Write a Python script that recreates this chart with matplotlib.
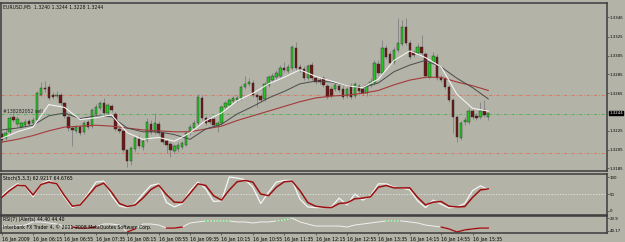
import numpy as np
import matplotlib
matplotlib.use('Agg')
from matplotlib import pyplot as plt
from matplotlib import transforms

# EURUSD M5 candles, 16 Jan 2009 05:35 .. 15:55
opens = [
    1.3222, 1.3217, 1.3224, 1.3240, 1.3232, 1.3229, 1.3231, 1.3236, 1.3233, 1.3237,
    1.3263, 1.3271, 1.3272, 1.3263, 1.3262, 1.3263, 1.3255, 1.3240, 1.3228, 1.3225,
    1.3229, 1.3224, 1.3234, 1.3230, 1.3243, 1.3249, 1.3255, 1.3244, 1.3251, 1.3243,
    1.3227, 1.3225, 1.3205, 1.3193, 1.3206, 1.3216, 1.3208, 1.3215, 1.3232, 1.3224,
    1.3232, 1.3223, 1.3214, 1.3211, 1.3204, 1.3206, 1.3208, 1.3210, 1.3223, 1.3228,
    1.3233, 1.3260, 1.3239, 1.3238, 1.3238, 1.3230, 1.3233, 1.3250, 1.3253, 1.3257,
    1.3258, 1.3260, 1.3272, 1.3275, 1.3276, 1.3263, 1.3262, 1.3259, 1.3274, 1.3279,
    1.3282, 1.3283, 1.3292, 1.3289, 1.3292, 1.3313, 1.3293, 1.3291, 1.3281, 1.3295,
    1.3281, 1.3279, 1.3281, 1.3273, 1.3270, 1.3270, 1.3273, 1.3270, 1.3262, 1.3273,
    1.3262, 1.3273, 1.3270, 1.3265, 1.3274, 1.3276, 1.3296, 1.3287, 1.3313, 1.3307,
    1.3298, 1.3311, 1.3317, 1.3336, 1.3318, 1.3309, 1.3308, 1.3314, 1.3307, 1.3282,
    1.3298, 1.3304, 1.3281, 1.3280, 1.3272, 1.3258, 1.3240, 1.3217, 1.3234, 1.3234,
    1.3246, 1.3241, 1.3240, 1.3247, 1.3240]
highs = [
    1.3224, 1.3228, 1.3241, 1.3244, 1.3241, 1.3236, 1.3238, 1.3238, 1.3240, 1.3267,
    1.3277, 1.3278, 1.3275, 1.3266, 1.3267, 1.3265, 1.3256, 1.3242, 1.3230, 1.3231,
    1.3231, 1.3236, 1.3237, 1.3249, 1.3254, 1.3257, 1.3260, 1.3255, 1.3254, 1.3245,
    1.3229, 1.3227, 1.3206, 1.3209, 1.3220, 1.3221, 1.3216, 1.3239, 1.3237, 1.3244,
    1.3236, 1.3225, 1.3216, 1.3213, 1.3211, 1.3213, 1.3214, 1.3226, 1.3232, 1.3237,
    1.3264, 1.3263, 1.3241, 1.3241, 1.3240, 1.3236, 1.3253, 1.3257, 1.3260, 1.3262,
    1.3263, 1.3274, 1.3283, 1.3281, 1.3279, 1.3265, 1.3264, 1.3277, 1.3284, 1.3287,
    1.3290, 1.3295, 1.3298, 1.3296, 1.3316, 1.3320, 1.3296, 1.3294, 1.3296, 1.3298,
    1.3283, 1.3282, 1.3283, 1.3275, 1.3273, 1.3276, 1.3275, 1.3273, 1.3272, 1.3276,
    1.3277, 1.3275, 1.3273, 1.3276, 1.3281, 1.3300, 1.3300, 1.3322, 1.3316, 1.3310,
    1.3314, 1.3345, 1.3343, 1.3345, 1.3322, 1.3311, 1.3318, 1.3327, 1.3309, 1.3299,
    1.3309, 1.3307, 1.3284, 1.3282, 1.3274, 1.3260, 1.3242, 1.3236, 1.3240, 1.3249,
    1.3248, 1.3244, 1.3256, 1.3258, 1.3244]
lows = [
    1.3213, 1.3215, 1.3222, 1.3234, 1.3229, 1.3228, 1.3229, 1.3231, 1.3232, 1.3236,
    1.3262, 1.3266, 1.3258, 1.3259, 1.3260, 1.3253, 1.3239, 1.3225, 1.3209, 1.3223,
    1.3221, 1.3222, 1.3227, 1.3228, 1.3241, 1.3247, 1.3242, 1.3242, 1.3245, 1.3225,
    1.3223, 1.3203, 1.3187, 1.3189, 1.3203, 1.3207, 1.3205, 1.3213, 1.3222, 1.3222,
    1.3221, 1.3211, 1.3201, 1.3197, 1.3201, 1.3203, 1.3206, 1.3209, 1.3221, 1.3226,
    1.3231, 1.3237, 1.3231, 1.3232, 1.3229, 1.3224, 1.3231, 1.3248, 1.3250, 1.3255,
    1.3256, 1.3258, 1.3270, 1.3273, 1.3261, 1.3250, 1.3256, 1.3257, 1.3272, 1.3277,
    1.3280, 1.3281, 1.3288, 1.3287, 1.3290, 1.3290, 1.3288, 1.3279, 1.3279, 1.3279,
    1.3275, 1.3275, 1.3272, 1.3259, 1.3260, 1.3267, 1.3266, 1.3259, 1.3260, 1.3259,
    1.3260, 1.3265, 1.3263, 1.3262, 1.3272, 1.3274, 1.3284, 1.3284, 1.3301, 1.3295,
    1.3296, 1.3309, 1.3315, 1.3316, 1.3301, 1.3304, 1.3306, 1.3306, 1.3281, 1.3280,
    1.3296, 1.3279, 1.3277, 1.3270, 1.3256, 1.3223, 1.3213, 1.3215, 1.3231, 1.3232,
    1.3238, 1.3237, 1.3238, 1.3240, 1.3237]
closes = [
    1.3215, 1.3223, 1.3239, 1.3237, 1.3238, 1.3233, 1.3234, 1.3232, 1.3237, 1.3265,
    1.3271, 1.3270, 1.3260, 1.3261, 1.3263, 1.3255, 1.3241, 1.3228, 1.3226, 1.3229,
    1.3223, 1.3233, 1.3229, 1.3247, 1.3250, 1.3255, 1.3244, 1.3253, 1.3247, 1.3227,
    1.3225, 1.3205, 1.3193, 1.3207, 1.3217, 1.3209, 1.3214, 1.3234, 1.3224, 1.3233,
    1.3223, 1.3213, 1.3210, 1.3205, 1.3209, 1.3210, 1.3212, 1.3223, 1.3229, 1.3233,
    1.3261, 1.3239, 1.3233, 1.3234, 1.3231, 1.3233, 1.3250, 1.3255, 1.3258, 1.3260,
    1.3260, 1.3272, 1.3275, 1.3277, 1.3263, 1.3261, 1.3258, 1.3275, 1.3282, 1.3283,
    1.3287, 1.3292, 1.3290, 1.3293, 1.3314, 1.3292, 1.3290, 1.3281, 1.3294, 1.3281,
    1.3277, 1.3277, 1.3274, 1.3261, 1.3262, 1.3274, 1.3268, 1.3261, 1.3270, 1.3261,
    1.3275, 1.3267, 1.3265, 1.3274, 1.3277, 1.3297, 1.3287, 1.3313, 1.3304, 1.3297,
    1.3311, 1.3318, 1.3336, 1.3318, 1.3304, 1.3306, 1.3314, 1.3308, 1.3283, 1.3297,
    1.3305, 1.3281, 1.3279, 1.3272, 1.3258, 1.3240, 1.3218, 1.3233, 1.3237, 1.3246,
    1.3240, 1.3239, 1.3246, 1.3242, 1.3244]

# moving averages read every 4 bars
ma_step = 4
ma_fast = [1.3217, 1.3224, 1.3229, 1.3253, 1.3250, 1.3237, 1.3239, 1.3242, 1.3223, 1.3216,
           1.3218, 1.3214, 1.3223, 1.3236, 1.3244, 1.3257, 1.3265, 1.3275, 1.3282, 1.3290,
           1.3283, 1.3278, 1.3273, 1.3271, 1.3280, 1.3300, 1.3310, 1.3303, 1.3293, 1.3264,
           1.3249, 1.3246]
ma_mid = [1.3226, 1.3228, 1.3231, 1.3241, 1.3244, 1.3238, 1.3241, 1.3240, 1.3228, 1.3224,
          1.3224, 1.3221, 1.3216, 1.3227, 1.3232, 1.3243, 1.3251, 1.3260, 1.3267, 1.3275,
          1.3278, 1.3277, 1.3273, 1.3271, 1.3276, 1.3288, 1.3295, 1.3300, 1.3293, 1.3281,
          1.3271, 1.3259]
ma_slow = [1.3213, 1.3216, 1.3220, 1.3225, 1.3229, 1.3230, 1.3231, 1.3230, 1.3228, 1.3226,
           1.3225, 1.3224, 1.3224, 1.3227, 1.3230, 1.3236, 1.3241, 1.3246, 1.3251, 1.3256,
           1.3260, 1.3262, 1.3263, 1.3265, 1.3268, 1.3274, 1.3279, 1.3282, 1.3282, 1.3277,
           1.3273, 1.3268]

# stochastic and rsi read every 2 bars
osc_step = 2
stoch_k = [45, 65, 80, 72, 42, 80, 90, 78, 40, 10, 20, 50, 85, 88, 45, 15, 10, 22, 50, 75,
           80, 25, 12, 22, 60, 85, 65, 28, 30, 100, 97, 92, 70, 22, 55, 85, 90, 90, 35, 12,
           10, 10, 12, 38, 18, 50, 32, 45, 80, 80, 70, 68, 62, 30, 10, 32, 20, 9, 12, 22,
           60, 74, 63]
stoch_d = [40, 60, 76, 74, 47, 78, 85, 80, 45, 14, 18, 45, 72, 82, 55, 22, 13, 18, 38, 63,
           76, 48, 26, 25, 52, 80, 75, 45, 32, 62, 86, 90, 85, 50, 45, 70, 86, 88, 60, 25,
           14, 11, 10, 22, 24, 36, 38, 42, 70, 75, 68, 68, 68, 40, 18, 26, 28, 14, 12, 13,
           40, 62, 65]
rsi = [41, 41, 41, 47, 65, 65, 59, 53, 41, 35, 29, 29, 35, 53, 53, 47, 6, 24, 53, 53,
       47, 29, 29, 35, 59, 65, 71, 71, 71, 71, 65, 65, 59, 65, 65, 71, 76, 88, 65, 53,
       41, 41, 41, 41, 35, 47, 53, 59, 65, 71, 71, 71, 65, 59, 47, 41, 35, 24, 6, 18,
       24, 29, 29]

time_bars = [0, 8, 16, 24, 32, 40, 48, 56, 64, 72, 80, 88, 96, 104, 112, 120]
time_labels = ['16 Jan 2009', '16 Jan 06:15', '16 Jan 06:55', '16 Jan 07:35', '16 Jan 08:15',
               '16 Jan 08:55', '16 Jan 09:35', '16 Jan 10:15', '16 Jan 10:55', '16 Jan 11:35',
               '16 Jan 12:15', '16 Jan 12:55', '16 Jan 13:35', '16 Jan 14:15', '16 Jan 14:55',
               '16 Jan 15:35']
price_ticks = [1.3346, 1.3325, 1.3305, 1.3285, 1.3265, 1.3225, 1.3205, 1.3185]
order_price = 1.3243
sl_price = 1.3263
tp_price = 1.3201
last_price = 1.3244

bg = '#b3b3a8'
frame = '#3c3c3c'
fs = 3.3      # panel texts
fs_ax = 2.8   # right-hand scale labels
W, H = 625.0, 242.0


def box(x0, y0, x1, y1):
    return [x0 / W, 1 - y1 / H, (x1 - x0) / W, (y1 - y0) / H]


fig = plt.figure(figsize=(6.25, 2.42), dpi=100, facecolor=bg)
ax = fig.add_axes(box(1, 3, 607, 171))
ax_st = fig.add_axes(box(1, 173.5, 607, 214.5))
ax_rs = fig.add_axes(box(1, 216, 607, 233))

xlim = (-0.18, 154.26)
for a in (ax, ax_st, ax_rs):
    a.set_facecolor(bg)
    a.set_xlim(*xlim)
    for s in a.spines.values():
        s.set_color(frame)
        s.set_linewidth(1.1)
    a.yaxis.tick_right()
    a.tick_params(axis='y', length=1.5, width=0.5, color=frame, labelsize=fs_ax, pad=0.5)
    a.tick_params(axis='x', length=0)
    a.set_xticks([])

# ---- main price panel
o = np.array(opens); h = np.array(highs); l = np.array(lows); c = np.array(closes)
x = np.arange(len(c))
up = c >= o
ax.vlines(x, l, h, color='#808080', linewidth=0.6, zorder=2)
body_lo = np.minimum(o, c)
body_h = np.maximum(np.abs(c - o), 0.00005)
ax.bar(x[up], body_h[up], bottom=body_lo[up], width=0.62, color='#25c425',
       edgecolor='#2a2a2a', linewidth=0.3, zorder=3)
ax.bar(x[~up], body_h[~up], bottom=body_lo[~up], width=0.62, color='#6e1616',
       edgecolor='#2a2a2a', linewidth=0.3, zorder=3)

mx = np.arange(len(ma_fast)) * ma_step
ax.plot(mx, ma_slow, color='#a43a3a', linewidth=0.8, zorder=4)
ax.plot(mx, ma_mid, color='#4a4a4a', linewidth=0.7, zorder=4)
ax.plot(mx, ma_fast, color='#f2f2f2', linewidth=0.8, zorder=4)

ax.axhline(sl_price, color='#d8735c', linewidth=0.6, linestyle=(0, (4, 2, 1, 2)), zorder=1)
ax.axhline(tp_price, color='#d8735c', linewidth=0.6, linestyle=(0, (4, 2, 1, 2)), zorder=1)
ax.axhline(order_price, color='#4caf50', linewidth=0.6, linestyle=(0, (4, 2, 1, 2)), zorder=1)
ax.text(0.4, order_price + 0.00004, '#138282052 sell', fontsize=fs, color='#222222',
        va='bottom', ha='left', zorder=5)

ax.set_ylim(1.318229, 1.336104)
ax.set_yticks(price_ticks)
ax.set_yticklabels(['%.4f' % p for p in price_ticks])
ax.text(0.004, 0.99, 'EURUSD,M5  1.3240 1.3244 1.3228 1.3244', transform=ax.transAxes,
        fontsize=fs, va='top', ha='left', color='#111111')
tr = transforms.blended_transform_factory(ax.transAxes, ax.transData)
ax.text(1.0035, last_price, '%.4f' % last_price, transform=tr, fontsize=fs_ax, color='white',
        va='center', ha='left', clip_on=False,
        bbox=dict(facecolor='black', edgecolor='black', pad=0.3))

# ---- stochastic panel
sx = np.arange(len(stoch_k)) * osc_step
ax_st.axhline(50, color='#eeeeee', linewidth=0.5, linestyle=(0, (2, 2)))
ax_st.plot(sx, stoch_k, color='#f5f5f5', linewidth=0.9)
ax_st.plot(sx, stoch_d, color='#9c1010', linewidth=1.1)
ax_st.set_ylim(-10.3, 110.3)
ax_st.set_yticks([0, 50, 100])
ax_st.set_yticklabels(['0', '50', '100'])
ax_st.text(0.004, 97, 'Stoch(5,3,3) 62.9217 64.6765', fontsize=fs, va='center', ha='left',
           transform=transforms.blended_transform_factory(ax_st.transAxes, ax_st.transData))

# ---- rsi panel
rx = np.arange(len(rsi)) * osc_step
rv = np.array(rsi, dtype=float)
ax_rs.plot(rx, rv, color='#f0f0f0', linewidth=0.7)
hi = np.where(rv >= 68, rv, np.nan)
lo = np.where(rv <= 36, rv, np.nan)
ax_rs.plot(rx, hi, color='#3fd13f', linewidth=0.9, linestyle=(0, (1, 1.5)))
ax_rs.plot(rx, lo, color='#a01010', linewidth=1.0)
ax_rs.set_ylim(0, 100)
ax_rs.set_yticks([88, 12])
ax_rs.set_yticklabels(['23.9', '40.17'])
trr = transforms.blended_transform_factory(ax_rs.transAxes, ax_rs.transData)
ax_rs.text(0.004, 82, 'RSI(7) (Alerts) 44.40 44.40', fontsize=fs, va='center', ha='left',
           transform=trr)
ax_rs.text(0.004, 35, 'Interbank FX Trader 4, \u00a9 2001-2008 MetaQuotes Software Corp.',
           fontsize=fs, va='center', ha='left', transform=trr)

ax_rs.set_xticks(time_bars)
ax_rs.set_xticklabels(time_labels, fontsize=fs, ha='left')
ax_rs.tick_params(axis='x', length=1.5, width=0.5, color=frame, pad=1.5)

fig.savefig('out.png', dpi=100, facecolor=bg)
